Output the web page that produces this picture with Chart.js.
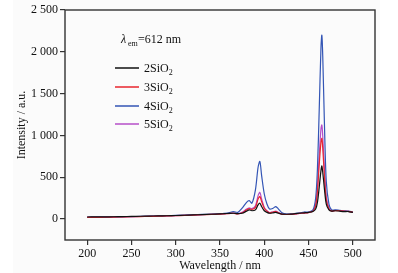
<!DOCTYPE html>
<html>
<head>
<meta charset="utf-8">
<script src="https://cdn.jsdelivr.net/npm/chart.js@4"></script>
<style>
  html, body { margin: 0; padding: 0; background: #ffffff; }
  #wrap { width: 398px; height: 273px; }
</style>
</head>
<body>
<div id="wrap"><canvas id="chart"></canvas></div>
<script>
// wavelengths (nm)
const aWave = [200, 210, 220, 230, 240, 250, 260, 270, 280, 290, 300, 310, 320, 330, 340, 350,
  355, 360, 365, 370, 375, 380, 383, 386, 390, 393, 395, 397, 400, 403, 406, 410, 413, 416, 420,
  425, 430, 435, 440, 445, 450, 455, 458, 460, 462, 464, 465, 466, 468, 470, 473, 476, 480, 485, 490, 495, 500];

// intensities (a.u.)
const a2SiO2 = [25, 26, 27, 28, 30, 32, 34, 36, 38, 40, 43, 46, 50, 54, 58, 62,
  65, 68, 70, 66, 70, 95, 110, 100, 110, 170, 190, 150, 100, 80, 70, 75, 80, 70, 60,
  58, 60, 65, 70, 75, 80, 90, 120, 200, 380, 580, 635, 560, 350, 180, 110, 95, 100, 95, 90, 90, 80];
const a3SiO2 = [20, 21, 22, 24, 26, 28, 30, 32, 35, 38, 41, 44, 48, 52, 56, 60,
  63, 66, 70, 62, 75, 110, 125, 115, 140, 240, 270, 210, 130, 95, 75, 85, 90, 75, 58,
  55, 58, 62, 68, 72, 78, 95, 160, 330, 650, 920, 965, 850, 500, 230, 120, 95, 100, 100, 95, 92, 82];
const a4SiO2 = [22, 23, 24, 26, 28, 30, 32, 35, 38, 41, 44, 48, 52, 56, 60, 64,
  68, 75, 90, 80, 130, 200, 220, 190, 350, 620, 690, 520, 300, 180, 120, 130, 150, 120, 75,
  60, 62, 68, 75, 85, 85, 110, 250, 600, 1300, 2050, 2200, 1950, 1100, 450, 180, 110, 110, 105, 100, 95, 85];
const a5SiO2 = [21, 22, 23, 25, 27, 29, 31, 33, 36, 39, 42, 45, 49, 53, 57, 61,
  64, 67, 72, 64, 80, 120, 135, 125, 160, 280, 320, 240, 140, 100, 78, 88, 95, 78, 60,
  56, 59, 63, 69, 74, 80, 100, 180, 380, 760, 1080, 1125, 990, 580, 260, 130, 100, 105, 102, 97, 93, 84];

const aXTicks = [200, 250, 300, 350, 400, 450, 500];
const aYTicks = [0, 500, 1000, 1500, 2000, 2500];

const aSeries = [
  { sName: "2", aData: a2SiO2, sColor: "#111111" },
  { sName: "3", aData: a3SiO2, sColor: "#e8262e" },
  { sName: "4", aData: a4SiO2, sColor: "#3355b5" },
  { sName: "5", aData: a5SiO2, sColor: "#b64fc8" }
];

const sFont = "'Liberation Serif', 'DejaVu Serif', serif";

function fmtNum(v) {
  // thousands separated by a space
  return String(v).replace(/\B(?=(\d{3})+(?!\d))/g, " ");
}

// frame round the plot area + legend inside the plot
const framePlugin = {
  id: "frame",
  beforeDraw: function (chart) {
    const ctx = chart.ctx;
    ctx.save();
    ctx.fillStyle = "#fbfbfb";
    ctx.fillRect(13, 0, 367, chart.height);
    ctx.restore();
  },
  afterDraw: function (chart) {
    const ctx = chart.ctx;
    const a = chart.chartArea;
    ctx.save();
    ctx.strokeStyle = "#333333";
    ctx.lineWidth = 1.4;
    ctx.strokeRect(a.left, a.top, a.right - a.left, a.bottom - a.top);

    // title: lambda_em = 612 nm
    ctx.fillStyle = "#111111";
    ctx.textBaseline = "alphabetic";
    ctx.font = "italic 12px " + sFont;
    ctx.fillText("\u03bb", 121, 43);
    ctx.font = "8px " + sFont;
    ctx.fillText("em", 128, 46);
    ctx.font = "12px " + sFont;
    ctx.fillText("=612 nm", 138, 43);

    // legend rows
    const aRowY = [68, 87, 106, 124];
    chart.data.datasets.forEach(function (ds, i) {
      const y = aRowY[i];
      ctx.strokeStyle = ds.borderColor;
      ctx.lineWidth = 1.5;
      ctx.beginPath();
      ctx.moveTo(115, y);
      ctx.lineTo(139, y);
      ctx.stroke();
      ctx.fillStyle = "#111111";
      ctx.font = "12px " + sFont;
      const sMain = aSeries[i].sName + "SiO";
      ctx.fillText(sMain, 144, y + 4);
      const w = ctx.measureText(sMain).width;
      ctx.font = "8px " + sFont;
      ctx.fillText("2", 144 + w, y + 7);
    });
    ctx.restore();
  }
};

const oChart = new Chart(document.getElementById("chart").getContext("2d"), {
  type: "line",
  plugins: [framePlugin],
  data: {
    datasets: aSeries.map(function (s) {
      return {
        label: s.sName + "SiO2",
        data: aWave.map(function (x, i) { return { x: x, y: s.aData[i] }; }),
        borderColor: s.sColor,
        backgroundColor: s.sColor,
        borderWidth: 1.2,
        pointRadius: 0,
        tension: 0.3,
        fill: false
      };
    })
  },
  options: {
    responsive: true,
    maintainAspectRatio: false,
    animation: false,
    layout: { padding: { left: 0, right: 23, top: 10, bottom: 0 } },
    plugins: {
      legend: { display: false },
      tooltip: { enabled: false }
    },
    scales: {
      x: {
        type: "linear",
        min: 175,
        max: 525,
        afterBuildTicks: function (scale) {
          scale.ticks = aXTicks.map(function (v) { return { value: v }; });
        },
        afterFit: function (scale) { scale.height = 33; },
        border: { display: false },
        grid: { drawOnChartArea: false, drawTicks: true, tickLength: 5, color: "#333333", lineWidth: 1.2 },
        ticks: { color: "#111111", font: { family: sFont, size: 12 }, padding: 2, maxRotation: 0 },
        title: { display: true, text: "Wavelength / nm", color: "#111111", font: { family: sFont, size: 12 }, padding: { top: 0, bottom: 0 } }
      },
      y: {
        type: "linear",
        min: -250,
        max: 2500,
        afterBuildTicks: function (scale) {
          scale.ticks = aYTicks.map(function (v) { return { value: v }; });
        },
        afterFit: function (scale) { scale.width = 65; },
        border: { display: false },
        grid: { drawOnChartArea: false, drawTicks: true, tickLength: 5, color: "#333333", lineWidth: 1.2 },
        ticks: {
          color: "#111111",
          font: { family: sFont, size: 12 },
          padding: 2,
          callback: function (v) { return fmtNum(v); }
        },
        title: { display: true, text: "Intensity / a.u.", color: "#111111", font: { family: sFont, size: 12 }, padding: { top: 15, bottom: 2 } }
      }
    }
  }
});
</script>
</body>
</html>
